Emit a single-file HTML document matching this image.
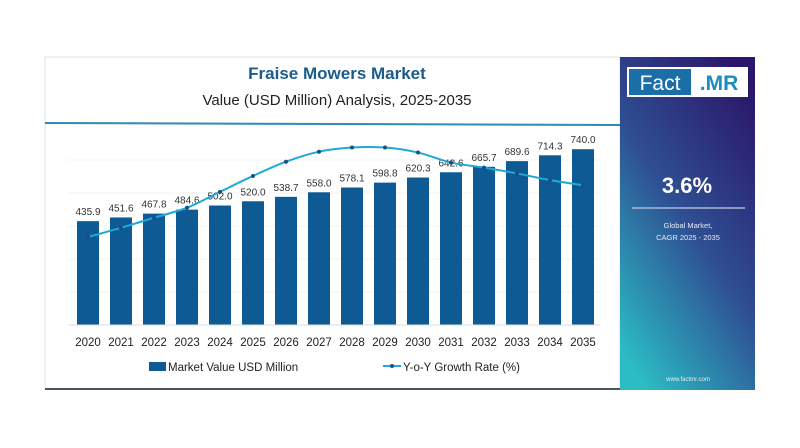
<!DOCTYPE html>
<html><head><meta charset="utf-8"><style>
body{margin:0;width:800px;height:448px;background:#fff;overflow:hidden;font-family:"Liberation Sans",sans-serif;}
svg{display:block}
</style></head><body>
<svg width="800" height="448" viewBox="0 0 800 448">
<defs>
<linearGradient id="pg" x1="0.8" y1="0" x2="0.2" y2="1">
<stop offset="0" stop-color="#2b176a"/><stop offset="0.5" stop-color="#2f4f93"/><stop offset="1" stop-color="#2bbcc4"/>
</linearGradient>
</defs>
<rect x="45" y="57" width="575" height="332" fill="#fff" stroke="#e2e2e2"/>
<line x1="45" y1="389" x2="620" y2="389" stroke="#4a5560" stroke-width="2"/>
<text x="337" y="79" text-anchor="middle" font-size="17" font-weight="bold" fill="#1b5c8c">Fraise Mowers Market</text>
<text x="337" y="105" text-anchor="middle" font-size="15" fill="#222">Value (USD Million) Analysis, 2025-2035</text>
<line x1="45" y1="123" x2="620" y2="125" stroke="#2f8ab4" stroke-width="2"/>
<g id="grid"></g>
<g id="bars"></g>
<g id="line"></g>
<line x1="68" y1="325" x2="600" y2="325" stroke="#ddd"/>
<g>
<rect x="149" y="362" width="17" height="9" fill="#0d5a94"/>
<text x="168" y="371" font-size="11.5" fill="#222">Market Value USD Million</text>
<line x1="383" y1="366" x2="401" y2="366" stroke="#1fa8d8" stroke-width="2"/>
<circle cx="392" cy="366" r="2" fill="#1a4f80"/>
<text x="403" y="371" font-size="11.5" fill="#222">Y-o-Y Growth Rate (%)</text>
</g>
<rect x="620" y="57" width="135" height="333" fill="url(#pg)"/>
<g>
<rect x="627" y="67" width="121" height="30" fill="#fff"/>
<rect x="629" y="69" width="62" height="26" fill="#1a6fa8"/>
<text x="660" y="90" text-anchor="middle" font-size="21" fill="#fff">Fact</text>
<text x="719" y="90" text-anchor="middle" font-size="21" font-weight="bold" fill="#1a8cc4">.MR</text>
</g>
<text x="687" y="193" text-anchor="middle" font-size="22" font-weight="bold" fill="#fff">3.6%</text>
<line x1="632" y1="208" x2="745" y2="208" stroke="#aab8d8" stroke-width="1.5"/>
<text x="688" y="228" text-anchor="middle" font-size="7.5" fill="#e8ecf4">Global Market,</text>
<text x="688" y="240" text-anchor="middle" font-size="7.5" fill="#e8ecf4">CAGR 2025 - 2035</text>
<text x="688" y="381" text-anchor="middle" font-size="6" fill="#e8ecf4">www.factmr.com</text>
</svg>
<script>
const years=["2020","2021","2022","2023","2024","2025","2026","2027","2028","2029","2030","2031","2032","2033","2034","2035"];
const values=[435.9,451.6,467.8,484.6,502.0,520.0,538.7,558.0,578.1,598.8,620.3,642.6,665.7,689.6,714.3,740.0];
const valueLabels=["435.9","451.6","467.8","484.6","502.0","520.0","538.7","558.0","578.1","598.8","620.3","642.6","665.7","689.6","714.3","740.0"];
const growth=[3.20,3.31,3.43,3.55,3.74,3.93,4.10,4.22,4.27,4.27,4.21,4.09,4.03,3.96,3.88,3.82];
const NS="http://www.w3.org/2000/svg";
const x=i=>88+i*33;
const yV=v=>325-(v+3)*0.2366;
const yG=g=>504.5-g*83.6;
function mk(t,a,p){const e=document.createElementNS(NS,t);for(const k in a)e.setAttribute(k,a[k]);p.appendChild(e);return e;}
const grid=document.getElementById('grid');
[160,193,226,259,292].forEach(y=>{const l=mk('line',{x1:68,x2:600,y1:y,y2:y,stroke:'#f3f3f3'},grid);

});
const bars=document.getElementById('bars');
values.forEach((v,i)=>{
const r=mk('rect',{x:x(i)-11,y:yV(v),width:22,height:325-yV(v),fill:'#0d5a94'},bars);


const t=mk('text',{x:x(i),y:yV(v)-6,'text-anchor':'middle','font-size':10,fill:'#333'},bars);t.textContent=valueLabels[i];


const yt=mk('text',{x:x(i),y:346,'text-anchor':'middle','font-size':11.5,fill:'#222'},bars);yt.textContent=years[i];


});
const lg=document.getElementById('line');
const pts=growth.map((g,i)=>[x(i),yG(g)]);
let d='M'+pts[0][0]+','+pts[0][1];
for(let i=0;i<pts.length-1;i++){const p0=pts[Math.max(i-1,0)],p1=pts[i],p2=pts[i+1],p3=pts[Math.min(i+2,pts.length-1)];
d+=` C${p1[0]+(p2[0]-p0[0])/6},${p1[1]+(p2[1]-p0[1])/6} ${p2[0]-(p3[0]-p1[0])/6},${p2[1]-(p3[1]-p1[1])/6} ${p2[0]},${p2[1]}`;}
const path=mk('path',{d:d,fill:'none',stroke:'#1fa8d8','stroke-width':2},lg);


pts.forEach((p,i)=>{const c=mk('circle',{cx:p[0],cy:p[1],r:2,fill:'#1a4f80'},lg);

});
</script>
</body></html>
